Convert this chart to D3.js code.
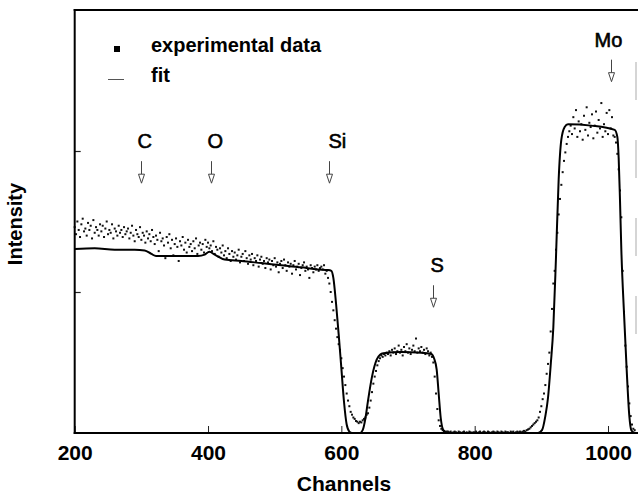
<!DOCTYPE html>
<html>
<head>
<meta charset="utf-8">
<script src="https://cdn.jsdelivr.net/npm/d3@7"></script>
<style>
  html, body { margin: 0; padding: 0; background: #fff; }
  svg { display: block; }
  text { font-family: "Liberation Sans", Arial, Helvetica, sans-serif; fill: #000; }
</style>
</head>
<body>
<svg id="chart" width="638" height="502"></svg>
<script>
// ---------------- DATA ----------------
const xTicks = [200, 400, 600, 800, 1000];
const yTicks = [1, 2];
const xTitle = "Channels";
const yTitle = "Intensity";
const legendLabels = ["experimental data", "fit"];

// Experimental data: first channel and channel step, then intensities
const expStartChannel = 200;
const expStepChannel = 2;
const expValues = [
  // 200-238
  1.46,1.41,1.50,1.44,1.39,1.48,1.52,1.43,1.45,1.40,1.49,1.44,1.47,1.38,1.51,1.42,1.46,1.44,1.40,1.48,
  // 240-278
  1.43,1.47,1.39,1.45,1.50,1.41,1.44,1.42,1.48,1.38,1.45,1.43,1.40,1.47,1.42,1.44,1.39,1.46,1.41,1.43,
  // 280-318
  1.45,1.38,1.42,1.47,1.40,1.36,1.44,1.41,1.39,1.46,1.37,1.42,1.40,1.35,1.43,1.38,1.41,1.36,1.44,1.39,
  // 320-358
  1.34,1.40,1.37,1.29,1.42,1.36,1.38,1.33,1.24,1.39,1.35,1.41,1.31,1.37,1.26,1.34,1.38,1.32,1.22,1.36,
  // 360-398
  1.33,1.39,1.30,1.35,1.28,1.37,1.32,1.34,1.29,1.36,1.31,1.38,1.27,1.33,1.35,1.30,1.34,1.28,1.37,1.32,
  // 400-438
  1.35,1.31,1.33,1.29,1.36,1.27,1.32,1.30,1.25,1.31,1.28,1.33,1.26,1.29,1.24,1.31,1.27,1.22,1.29,1.25,
  // 440-478
  1.28,1.23,1.26,1.30,1.21,1.25,1.27,1.22,1.29,1.24,1.20,1.26,1.23,1.27,1.19,1.24,1.22,1.26,1.18,1.23,
  // 480-518
  1.25,1.20,1.22,1.17,1.24,1.21,1.23,1.16,1.22,1.19,1.24,1.18,1.21,1.14,1.20,1.22,1.17,1.23,1.19,1.15,
  // 520-558
  1.21,1.18,1.20,1.13,1.19,1.22,1.16,1.18,1.20,1.12,1.17,1.19,1.21,1.15,1.18,1.16,1.10,1.19,1.17,1.14,
  // 560-598
  1.18,1.16,1.19,1.15,1.17,1.18,1.16,1.19,1.13,1.15,1.10,1.06,1.00,0.93,0.87,0.80,0.74,0.68,0.63,0.59,
  // 600-638
  0.53,0.46,0.40,0.34,0.28,0.23,0.19,0.15,0.13,0.11,0.10,0.085,0.08,0.07,0.08,0.075,0.09,0.10,0.11,0.13,
  // 640-678
  0.14,0.18,0.23,0.29,0.35,0.40,0.44,0.48,0.51,0.53,0.55,0.54,0.56,0.55,0.57,0.56,0.58,0.55,0.59,0.57,
  // 680-718
  0.60,0.56,0.58,0.62,0.57,0.59,0.55,0.61,0.58,0.63,0.57,0.60,0.56,0.59,0.62,0.58,0.67,0.57,0.60,0.58,
  // 720-758
  0.61,0.57,0.59,0.56,0.60,0.58,0.55,0.57,0.54,0.50,0.40,0.28,0.17,0.09,0.05,0.03,0.02,0.015,0.01,0.01,
  // 760-798
  0.01,0.005,0.01,0.0,0.005,0.01,0.005,0.0,0.01,0.005,0.0,0.005,0.01,0.0,0.005,0.0,0.01,0.005,0.0,0.005,
  // 800-838
  0.005,0.01,0.0,0.005,0.01,0.0,0.005,0.01,0.005,0.0,0.01,0.005,0.0,0.005,0.01,0.005,0.0,0.01,0.005,0.0,
  // 840-878
  0.01,0.005,0.0,0.01,0.005,0.005,0.0,0.01,0.005,0.01,0.0,0.005,0.01,0.005,0.01,0.005,0.01,0.015,0.01,0.02,
  // 880-918
  0.025,0.03,0.04,0.05,0.06,0.07,0.08,0.09,0.11,0.15,0.19,0.24,0.28,0.34,0.42,0.49,0.57,0.72,0.88,1.06,
  // 920-958
  1.15,1.30,1.42,1.55,1.66,1.76,1.85,1.93,1.99,2.05,2.10,2.14,2.18,2.12,2.24,2.16,2.29,2.10,2.21,2.14,
  // 960-998
  2.19,2.08,2.25,2.15,2.31,2.11,2.20,2.17,2.26,2.09,2.18,2.28,2.13,2.22,2.16,2.34,2.10,2.19,2.14,2.27,
  // 1000-1038
  2.12,2.29,2.16,2.24,2.11,2.10,2.06,1.98,1.87,1.72,1.53,1.15,0.86,0.62,0.47,0.33,0.21,0.12,0.06,0.03,
  // 1040
  0.02
];

// Fit curve: channel / intensity pairs
const fitChannels = [200,230,260,290,305,315,322,350,385,395,402,410,425,450,480,510,540,565,580,585,
  588,592,596,600,604,608,612,616,628,632,636,640,646,653,658,663,690,720,735,739,
  743,746,749,753,758,895,901,906,910,914,918,922,926,930,935,940,975,1010,1014,1016,
  1018,1020,1024,1028,1032,1035,1040];
const fitValues = [1.305,1.31,1.30,1.30,1.295,1.27,1.255,1.255,1.255,1.265,1.285,1.265,1.23,1.22,1.205,1.19,1.175,1.16,1.156,1.15,
  1.10,0.92,0.70,0.46,0.22,0.06,0.01,0,0,0.02,0.10,0.23,0.40,0.52,0.555,0.565,0.575,0.57,0.56,0.53,
  0.45,0.28,0.11,0.02,0,0,0.02,0.12,0.25,0.48,0.75,1.25,1.80,2.08,2.17,2.19,2.18,2.15,2.10,1.95,
  1.65,1.30,0.85,0.45,0.12,0.02,0];

// Element annotations
const elements = ["C", "O", "Si", "S", "Mo"];
const elementChannels = [300, 405, 582, 737, 1005];
const elementLabelLevels = [2.02, 2.02, 2.02, 1.14, 2.74];

// ---------------- DRAW ----------------
const svg = d3.select("#chart");
const x = d3.scaleLinear().domain([200, 1045]).range([74.7, 638]);
const y = d3.scaleLinear().domain([0, 3]).range([433, 10]);

// faint right edge (scan artefact of the frame)
svg.append("line")
  .attr("x1", 636).attr("x2", 636).attr("y1", 62).attr("y2", 335)
  .attr("stroke", "#c8c8c8").attr("stroke-width", 1.5)
  .attr("stroke-dasharray", "38,40");

// experimental points
const expData = expValues.map((v, i) => ({ c: expStartChannel + i * expStepChannel, v }));
svg.append("g").selectAll("rect")
  .data(expData)
  .join("rect")
  .attr("x", d => x(d.c) - 1)
  .attr("y", d => y(d.v) - 1)
  .attr("width", 2).attr("height", 2)
  .attr("fill", "#111");

// fit line
const fitData = fitChannels.map((c, i) => ({ c, v: fitValues[i] }));
svg.append("path")
  .datum(fitData)
  .attr("fill", "none")
  .attr("stroke", "#000")
  .attr("stroke-width", 2)
  .attr("stroke-linejoin", "round")
  .attr("d", d3.line().x(d => x(d.c)).y(d => y(d.v)).curve(d3.curveMonotoneX));

// axes
const xAxis = svg.append("g")
  .attr("transform", "translate(0,433)")
  .call(d3.axisBottom(x).tickValues(xTicks).tickFormat(d3.format("d"))
    .tickSize(-7).tickSizeOuter(0).tickPadding(12));
xAxis.select(".domain").remove();
xAxis.selectAll(".tick line").attr("stroke", "#222").attr("stroke-width", 1);
xAxis.selectAll(".tick text")
  .style("font-family", '"Liberation Sans", Arial, sans-serif')
  .style("font-size", "21px").style("font-weight", "bold").attr("fill", "#000");

const yAxis = svg.append("g")
  .attr("transform", "translate(74.7,0)")
  .call(d3.axisLeft(y).tickValues(yTicks).tickSize(-6).tickSizeOuter(0).tickFormat(""));
yAxis.select(".domain").remove();
yAxis.selectAll(".tick line").attr("stroke", "#222").attr("stroke-width", 1.2);

// frame lines
svg.append("line").attr("x1", 74.7).attr("x2", 74.7).attr("y1", 9).attr("y2", 434)
  .attr("stroke", "#000").attr("stroke-width", 2);
svg.append("line").attr("x1", 73.7).attr("x2", 638).attr("y1", 433).attr("y2", 433)
  .attr("stroke", "#000").attr("stroke-width", 2);
svg.append("line").attr("x1", 73.7).attr("x2", 638).attr("y1", 10).attr("y2", 10)
  .attr("stroke", "#000").attr("stroke-width", 2);

// axis titles
svg.append("text")
  .attr("x", 344).attr("y", 491)
  .attr("text-anchor", "middle")
  .style("font-size", "21px").style("font-weight", "bold")
  .text(xTitle);
svg.append("text")
  .attr("transform", "translate(22,224) rotate(-90)")
  .attr("text-anchor", "middle")
  .style("font-size", "20px").style("font-weight", "bold")
  .text(yTitle);

// legend
svg.append("rect").attr("x", 114).attr("y", 46).attr("width", 6).attr("height", 6).attr("fill", "#000");
svg.append("text").attr("x", 151).attr("y", 52)
  .style("font-size", "20px").style("font-weight", "bold").text(legendLabels[0]);
svg.append("line").attr("x1", 108).attr("x2", 124).attr("y1", 79.5).attr("y2", 79.5)
  .attr("stroke", "#555").attr("stroke-width", 1);
svg.append("text").attr("x", 151).attr("y", 82)
  .style("font-size", "20px").style("font-weight", "bold").text(legendLabels[1]);

// element markers
const labelDx = { C: -4, O: -4, Si: -1, S: -3, Mo: -17 };
elements.forEach((el, i) => {
  const ax = Math.round(x(elementChannels[i])) + 0.5;
  const by = y(elementLabelLevels[i]);
  svg.append("text")
    .attr("x", ax + labelDx[el]).attr("y", by)
    .style("font-size", "20px")
    .attr("stroke", "#000").attr("stroke-width", 0.6)
    .text(el);
  const top = by + 13, tip = by + 35;
  svg.append("line")
    .attr("x1", ax).attr("x2", ax).attr("y1", top).attr("y2", tip - 9)
    .attr("stroke", "#444").attr("stroke-width", 1);
  svg.append("path")
    .attr("d", `M${ax - 3},${tip - 9} L${ax + 3},${tip - 9} L${ax},${tip} Z`)
    .attr("fill", "#fff").attr("stroke", "#444").attr("stroke-width", 1);
});
</script>
</body>
</html>
